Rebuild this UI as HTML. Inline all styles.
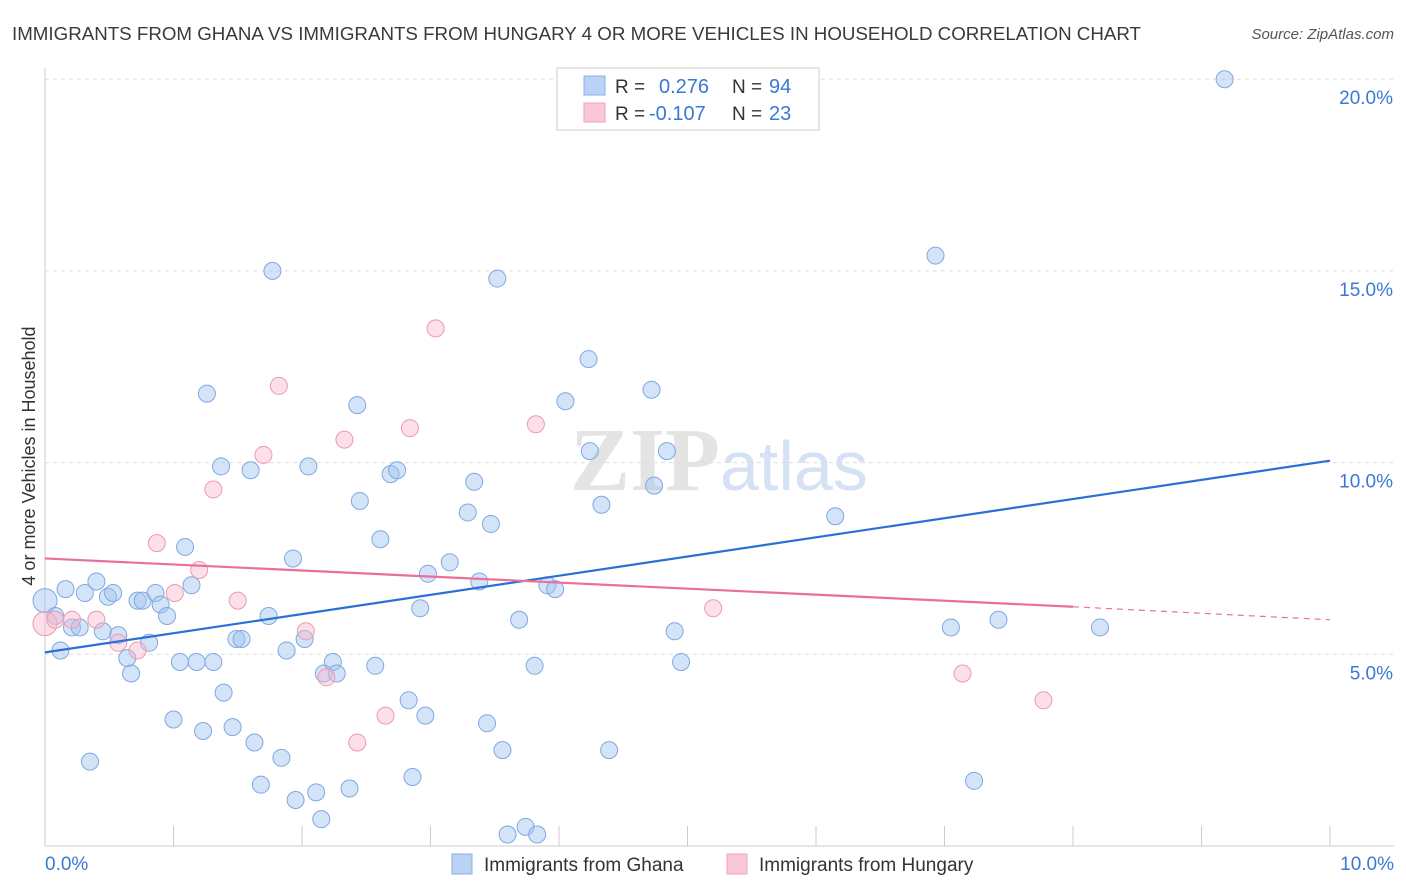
<!DOCTYPE html>
<html><head><meta charset="utf-8"><style>
body{margin:0;background:#fff;font-family:"Liberation Sans",sans-serif;}
svg{display:block}
</style></head><body>
<svg id="chart" width="1406" height="892">
<text x="12" y="40" font-size="18.5" fill="#3a3a3a" textLength="1129" lengthAdjust="spacingAndGlyphs">IMMIGRANTS FROM GHANA VS IMMIGRANTS FROM HUNGARY 4 OR MORE VEHICLES IN HOUSEHOLD CORRELATION CHART</text>
<text x="1394" y="39" font-size="15" fill="#555" font-style="italic" text-anchor="end">Source: ZipAtlas.com</text>
<text x="35" y="456" font-size="18" fill="#333" text-anchor="middle" transform="rotate(-90 35 456)">4 or more Vehicles in Household</text>
<text x="720" y="490" font-size="90" fill="#e4e4e4" text-anchor="end" font-family="Liberation Serif,serif" font-weight="bold">ZIP</text>
<text x="720" y="490" font-size="70" fill="#d5e2f3">atlas</text>
<g id="grid"></g><g id="pts"></g><g id="lines"></g>
<g>
<rect x="557" y="68" width="262" height="62" fill="#fff" stroke="#ccc"/>
<rect x="584" y="76" width="21" height="19" fill="#b8d3f5" stroke="#8ab0e6"/>
<rect x="584" y="103" width="21" height="19" fill="#fac8d6" stroke="#f0a0b8"/>
<text x="615" y="93" font-size="19" fill="#333">R =</text><text x="659" y="93" font-size="20" fill="#3a78d4">0.276</text>
<text x="732" y="93" font-size="19" fill="#333">N =</text><text x="769" y="93" font-size="20" fill="#3a78d4">94</text>
<text x="615" y="120" font-size="19" fill="#333">R =</text><text x="649" y="120" font-size="20" fill="#3a78d4">-0.107</text>
<text x="732" y="120" font-size="19" fill="#333">N =</text><text x="769" y="120" font-size="20" fill="#3a78d4">23</text>
</g>
<g>
<rect x="452" y="854" width="20" height="20" fill="#b8d3f5" stroke="#8ab0e6"/>
<text x="484" y="871" font-size="19" fill="#333">Immigrants from Ghana</text>
<rect x="727" y="854" width="20" height="20" fill="#fac8d6" stroke="#f0a0b8"/>
<text x="759" y="871" font-size="19" fill="#333">Immigrants from Hungary</text>
</g>
</svg>
<script>
const yTicks=[5,10,15,20];
const yTickLabels=["5.0%","10.0%","15.0%","20.0%"];
const xTickLabels=["0.0%","10.0%"];
const ghanaX=[0,0.08,0.12,0.16,0.21,0.27,0.31,0.35,0.40,0.45,0.49,0.53,0.57,0.64,0.67,0.72,0.76,0.81,0.86,0.90,0.95,1.00,1.05,1.09,1.14,1.18,1.23,1.26,1.31,1.37,1.39,1.46,1.49,1.53,1.60,1.63,1.68,1.74,1.77,1.84,1.88,1.93,1.95,2.02,2.05,2.11,2.15,2.17,2.24,2.27,2.37,2.43,2.45,2.57,2.61,2.69,2.74,2.83,2.86,2.92,2.98,2.96,3.15,3.29,3.34,3.38,3.44,3.47,3.52,3.56,3.60,3.69,3.74,3.81,3.83,3.91,3.97,4.05,4.23,4.24,4.33,4.39,4.72,4.74,4.84,4.90,4.95,6.15,6.93,7.05,7.23,7.42,8.21,9.18];
const ghanaY=[6.4,6.0,5.1,6.7,5.7,5.7,6.6,2.2,6.9,5.6,6.5,6.6,5.5,4.9,4.5,6.4,6.4,5.3,6.6,6.3,6.0,3.3,4.8,7.8,6.8,4.8,3.0,11.8,4.8,9.9,4.0,3.1,5.4,5.4,9.8,2.7,1.6,6.0,15.0,2.3,5.1,7.5,1.2,5.4,9.9,1.4,0.7,4.5,4.8,4.5,1.5,11.5,9.0,4.7,8.0,9.7,9.8,3.8,1.8,6.2,7.1,3.4,7.4,8.7,9.5,6.9,3.2,8.4,14.8,2.5,0.3,5.9,0.5,4.7,0.3,6.8,6.7,11.6,12.7,10.3,8.9,2.5,11.9,9.4,10.3,5.6,4.8,8.6,15.4,5.7,1.7,5.9,5.7,20.0];
const hungX=[0,0.08,0.21,0.40,0.57,0.72,0.87,1.01,1.20,1.31,1.50,1.70,1.82,2.03,2.19,2.33,2.43,2.65,2.84,3.04,3.82,5.20,7.14,7.77];
const hungY=[5.8,5.9,5.9,5.9,5.3,5.1,7.9,6.6,7.2,9.3,6.4,10.2,12.0,5.6,4.4,10.6,2.7,3.4,10.9,13.5,11.0,6.2,4.5,3.8];
const X0=45,X1=1330,Y0=846,PY=38.34;
const sx=v=>X0+(X1-X0)*v/10, sy=v=>Y0-v*PY;
const NS="http://www.w3.org/2000/svg";
function mk(t,a,p){const e=document.createElementNS(NS,t);for(const k in a)e.setAttribute(k,a[k]);p.appendChild(e);return e;}
const grid=document.getElementById('grid');
yTicks.forEach((t,i)=>{
 const l=mk('line',{x1:X0,x2:1394,y1:sy(t),y2:sy(t),stroke:'#ddd','stroke-dasharray':'4,4'},grid);
 
 
 const tx=mk('text',{x:1393,y:sy(t)+25,'font-size':19,fill:'#3a78d4','text-anchor':'end'},grid);
 tx.textContent=yTickLabels[i];
 
 
});
const ax=mk('line',{x1:X0,x2:X0,y1:68,y2:846,stroke:'#ccc'},grid);


const bx=mk('line',{x1:X0,x2:1394,y1:846,y2:846,stroke:'#ccc'},grid);


for(let i=0;i<=10;i++){const t=mk('line',{x1:sx(i),x2:sx(i),y1:826,y2:846,stroke:'#ccc'},grid);
 
 }
[[0,'start',45],[10,'end',1394]].forEach(([v,a,x],i)=>{const t=mk('text',{x:x,y:870,'font-size':19,fill:'#3a78d4','text-anchor':a},grid);t.textContent=xTickLabels[i];
 
 });
const pts=document.getElementById('pts');
ghanaX.forEach((x,i)=>{const c=mk('circle',{cx:sx(x),cy:sy(ghanaY[i]),r:i==0?12:8.5,fill:'rgba(160,195,240,0.45)',stroke:'#7fa8e0','stroke-width':1},pts);
 
 });
hungX.forEach((x,i)=>{const c=mk('circle',{cx:sx(x),cy:sy(hungY[i]),r:i==0?12:8.5,fill:'rgba(248,185,205,0.45)',stroke:'#eb9ab4','stroke-width':1},pts);
 
 });
const lines=document.getElementById('lines');
const bl=mk('line',{x1:sx(0),y1:sy(5.05),x2:sx(10),y2:sy(10.05),stroke:'#2a6fd6','stroke-width':2.2},lines);


const pl=mk('line',{x1:sx(0),y1:sy(7.5),x2:sx(8),y2:sy(6.24),stroke:'#e8709a','stroke-width':2.2},lines);


const pd=mk('line',{x1:sx(8),y1:sy(6.24),x2:sx(10),y2:sy(5.9),stroke:'#e8709a','stroke-width':1.2,'stroke-dasharray':'6,5'},lines);


</script>
</body></html>
